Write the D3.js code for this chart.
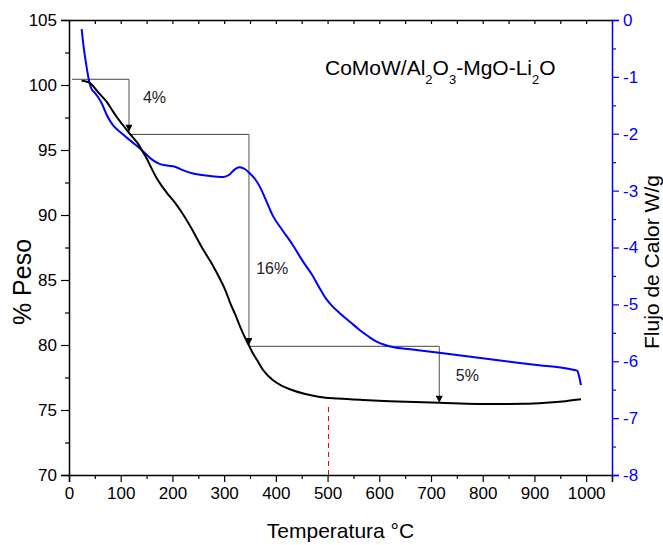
<!DOCTYPE html>
<html>
<head>
<meta charset="utf-8">
<script src="https://cdn.jsdelivr.net/npm/d3@7"></script>
<style>
  html, body { margin: 0; padding: 0; background: #fff; }
  svg text { font-family: "Liberation Sans", Arial, Helvetica, sans-serif; }
</style>
</head>
<body>
<svg id="chart" width="663" height="545"></svg>
<script>
// Thermogravimetric curve: temperature (°C) vs weight (%)
const tgaTemp = [24.5, 32, 39, 46, 53, 63, 73, 82, 92, 103, 114.5, 124, 134, 142, 150, 158, 170, 180, 190, 203, 215, 235, 260, 277, 293, 303, 312, 322, 331, 340, 347.5, 355, 363.6, 375, 394, 410, 427, 455, 485, 520, 568, 620, 716, 826, 880, 922, 960, 990];
const tgaWeight = [100.33, 100.28, 100.18, 99.95, 99.6, 99.15, 98.7, 98.15, 97.56, 96.98, 96.4, 95.95, 95.45, 94.9, 94.36, 93.72, 92.8, 92.2, 91.67, 91.05, 90.38, 89.1, 87.3, 86.2, 85.0, 84.15, 83.2, 82.3, 81.4, 80.6, 80.0, 79.4, 78.85, 78.1, 77.3, 76.9, 76.6, 76.25, 76.0, 75.88, 75.77, 75.68, 75.56, 75.46, 75.48, 75.56, 75.68, 75.82];

// Heat flow curve: temperature (°C) vs heat flow (W/g)
const dscTemp = [24.5, 28, 31, 35, 39, 44, 50, 55, 63, 73, 85, 100, 120, 140, 160, 175, 190, 205, 220, 240, 270, 298, 310, 320, 330, 340, 349, 360, 369, 380, 394, 413, 433, 452, 470, 485, 497, 510, 523, 545, 562, 580, 594, 610, 626, 660, 716, 826, 900, 975, 983, 986, 990];
const dscFlow = [-0.16, -0.45, -0.65, -0.88, -1.08, -1.22, -1.28, -1.34, -1.46, -1.67, -1.85, -1.98, -2.13, -2.28, -2.45, -2.53, -2.56, -2.58, -2.64, -2.70, -2.74, -2.76, -2.72, -2.63, -2.59, -2.62, -2.69, -2.80, -2.93, -3.15, -3.44, -3.70, -3.96, -4.24, -4.48, -4.72, -4.90, -5.04, -5.15, -5.32, -5.45, -5.57, -5.65, -5.71, -5.75, -5.79, -5.85, -5.98, -6.06, -6.15, -6.17, -6.25, -6.42];

// Weight-loss steps: horizontal level, span in temperature, arrow end
const stepStartT = [6, 116, 348];
const stepEndT = [116, 348, 716];
const stepLevel = [100.44, 96.2, 79.9];
const stepTip = [96.4, 80.0, 75.56];
const stepLabels = ["4%", "16%", "5%"];
const stepLabelT = [143, 362, 748];
const stepLabelW = [98.6, 85.5, 77.2];

// Reference temperature marker
const markerT = 500;
const markerTop = 75.25;

// Axis ticks
const xTicks = d3.range(0, 1001, 100);
const xMinor = d3.range(50, 1051, 100);
const xTop = d3.range(0, 1051, 50);
const leftTicks = d3.range(70, 106, 5);
const leftMinor = d3.range(72.5, 105, 5);
const rightTicks = d3.range(-8, 1, 1);
const rightMinor = d3.range(-7.5, 0, 1);

const svg = d3.select("#chart");
const L = 69, R = 612, T = 20, B = 475;

const x = d3.scaleLinear().domain([0, 1050]).range([L, R]);
const yL = d3.scaleLinear().domain([70, 105]).range([B, T]);
const yR = d3.scaleLinear().domain([-8, 0]).range([B, T]);

const BLUE = "#0000ff";

// Arrowhead marker
const defs = svg.append("defs");
defs.append("marker")
  .attr("id", "arrow")
  .attr("viewBox", "0 0 10 10")
  .attr("refX", 10).attr("refY", 5)
  .attr("markerWidth", 12).attr("markerHeight", 7)
  .attr("markerUnits", "userSpaceOnUse")
  .attr("orient", "auto")
  .append("path").attr("d", "M0,0 L10,5 L0,10 Z").attr("fill", "#000");

// Red dashed marker line (snapped to the pixel grid so it stays crisp)
const mx = Math.round(x(markerT)) + 0.5;
svg.append("line")
  .attr("x1", mx).attr("x2", mx)
  .attr("y1", yL(70)).attr("y2", yL(markerTop))
  .attr("stroke", "#ff0000").attr("stroke-width", 1)
  .attr("stroke-dasharray", "5,4");

// Step annotations
const steps = stepLevel.map((lv, i) => ({ lv, t0: stepStartT[i], t1: stepEndT[i], tip: stepTip[i], label: stepLabels[i], lt: stepLabelT[i], lw: stepLabelW[i] }));
const ann = svg.append("g");
steps.forEach(s => {
  ann.append("line")
    .attr("x1", x(s.t0)).attr("x2", x(s.t1))
    .attr("y1", yL(s.lv)).attr("y2", yL(s.lv))
    .attr("stroke", "#444").attr("stroke-width", 1);
  ann.append("line")
    .attr("x1", x(s.t1)).attr("x2", x(s.t1))
    .attr("y1", yL(s.lv)).attr("y2", yL(s.tip))
    .attr("stroke", "#555").attr("stroke-width", 1)
    .attr("marker-end", "url(#arrow)");
  ann.append("text")
    .attr("x", x(s.lt)).attr("y", yL(s.lw))
    .attr("font-size", 16).attr("fill", "#222")
    .text(s.label);
});

// Curves
const tgaData = tgaTemp.map((t, i) => [t, tgaWeight[i]]);
const dscData = dscTemp.map((t, i) => [t, dscFlow[i]]);

svg.append("path")
  .datum(dscData)
  .attr("fill", "none").attr("stroke", BLUE).attr("stroke-width", 2)
  .attr("stroke-linejoin", "round")
  .attr("d", d3.line().x(d => x(d[0])).y(d => yR(d[1])).curve(d3.curveMonotoneX));

svg.append("path")
  .datum(tgaData)
  .attr("fill", "none").attr("stroke", "#000").attr("stroke-width", 2)
  .attr("stroke-linejoin", "round")
  .attr("d", d3.line().x(d => x(d[0])).y(d => yL(d[1])).curve(d3.curveMonotoneX));

// Axes
function styleAxis(g, color) {
  g.selectAll("path.domain").attr("stroke", color).attr("stroke-width", 1.5);
  g.selectAll(".tick line").attr("stroke", color).attr("stroke-width", 1.2);
  g.selectAll(".tick text").attr("fill", color).attr("font-size", 17)
    .attr("font-family", "\"Liberation Sans\", Arial, sans-serif");
}

// Bottom axis
const gx = svg.append("g").attr("transform", `translate(0,${B})`)
  .call(d3.axisBottom(x).tickValues(xTicks).tickSize(7).tickPadding(5).tickFormat(String));
styleAxis(gx, "#000");
const gxm = svg.append("g").attr("transform", `translate(0,${B})`)
  .call(d3.axisBottom(x).tickValues(xMinor).tickSize(4).tickFormat(""));
gxm.select("path.domain").remove();
styleAxis(gxm, "#000");

// Top border with inward ticks
const gt = svg.append("g").attr("transform", `translate(0,${T})`)
  .call(d3.axisTop(x).tickValues(xTop).tickSize(-4).tickSizeOuter(0).tickFormat(""));
styleAxis(gt, "#000");

// Left axis (weight)
const gl = svg.append("g").attr("transform", `translate(${L},0)`)
  .call(d3.axisLeft(yL).tickValues(leftTicks).tickSize(8).tickPadding(4).tickFormat(String));
styleAxis(gl, "#000");
const glm = svg.append("g").attr("transform", `translate(${L},0)`)
  .call(d3.axisLeft(yL).tickValues(leftMinor).tickSize(4).tickFormat(""));
glm.select("path.domain").remove();
styleAxis(glm, "#000");

// Right axis (heat flow)
const gr = svg.append("g").attr("transform", `translate(${R},0)`)
  .call(d3.axisRight(yR).tickValues(rightTicks).tickSize(7).tickPadding(4).tickFormat(d => String(d)));
styleAxis(gr, BLUE);
const grm = svg.append("g").attr("transform", `translate(${R},0)`)
  .call(d3.axisRight(yR).tickValues(rightMinor).tickSize(4).tickFormat(""));
grm.select("path.domain").remove();
styleAxis(grm, BLUE);

// Axis titles
svg.append("text")
  .attr("x", (L + R) / 2).attr("y", 538)
  .attr("text-anchor", "middle").attr("font-size", 21).attr("fill", "#000")
  .text("Temperatura °C");

svg.append("text")
  .attr("transform", "translate(31,282) rotate(-90)")
  .attr("text-anchor", "middle").attr("font-size", 25).attr("fill", "#000")
  .text("% Peso");

svg.append("text")
  .attr("transform", "translate(659,262) rotate(-90)")
  .attr("text-anchor", "middle").attr("font-size", 21).attr("fill", "#000")
  .text("Flujo de Calor W/g");

// Sample label with subscripts
const title = svg.append("text")
  .attr("x", 325).attr("y", 75)
  .attr("font-size", 21).attr("fill", "#000");
const parts = [["CoMoW/Al", 0], ["2", 1], ["O", 0], ["3", 1], ["-MgO-Li", 0], ["2", 1], ["O", 0]];
let prevSub = 0;
parts.forEach(([s, sub]) => {
  title.append("tspan")
    .attr("font-size", sub ? 13 : 21)
    .attr("dy", sub === prevSub ? 0 : (sub ? 9 : -9))
    .text(s);
  prevSub = sub;
});
</script>
</body>
</html>
